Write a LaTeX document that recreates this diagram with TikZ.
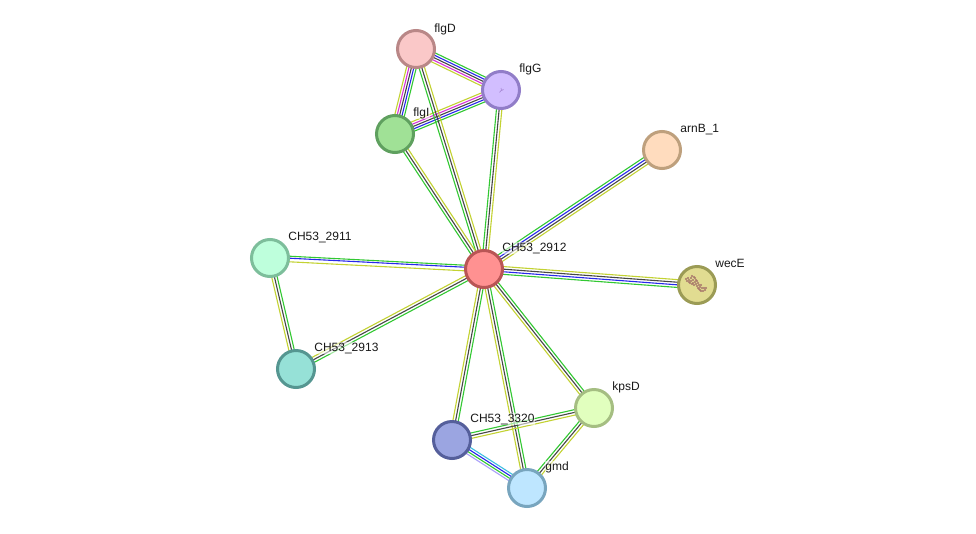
\documentclass[tikz,border=0pt]{standalone}
\usepackage{fontspec}
\setmainfont{Liberation Sans}
\usetikzlibrary{calc}
\definecolor{lgreen}{RGB}{50,200,50}
\definecolor{lblue}{RGB}{40,40,235}
\definecolor{lblack}{RGB}{70,70,70}
\definecolor{lmag}{RGB}{215,50,215}
\definecolor{lyel}{RGB}{195,210,50}
\definecolor{lcyan}{RGB}{60,190,225}
\definecolor{llav}{RGB}{170,160,250}
\definecolor{speckG}{RGB}{170,140,215}
\definecolor{speckW}{RGB}{165,115,105}
\tikzset{
  x=1pt,y=-1pt,
  protein/.style={circle,line width=3pt,minimum size=37pt,inner sep=0pt},
  plabel/.style={anchor=base west,font=\fontsize{12}{12}\selectfont,text=black!90,
    fill=white,fill opacity=.55,text opacity=1,inner sep=.5pt},
  evidence/.style={line width=1.1pt,line cap=butt}
}
% one evidence strand per colour/offset pair, parallel to the line between two proteins
\newcommand{\evlink}[3]{%
  \foreach \c/\o in {#3}{%
    \draw[evidence,\c] ($(#1)!\o pt!90:(#2)$) -- ($(#2)!\o pt!-90:(#1)$);
  }%
}
\begin{document}
\begin{tikzpicture}
\useasboundingbox (0,0) rectangle (976,533);
\fill[white] (0,0) rectangle (976,533);

% anchors for the strands: centres of the proteins
\coordinate (cD) at (416,49);
\coordinate (cG) at (501,90);
\coordinate (cI) at (395,134);
\coordinate (cA) at (662,150);
\coordinate (cC) at (484,269);
\coordinate (cW) at (697,285);
\coordinate (c11) at (270,258);
\coordinate (c13) at (296,369);
\coordinate (cK) at (594,408);
\coordinate (c20) at (452,440);
\coordinate (cM) at (527,488);

% evidence strands
\evlink{cD}{cG}{lgreen/4.8,lblue/2.4,lblack/0,lmag/-2.4,lyel/-4.8}
\evlink{cI}{cG}{lyel/4.8,lmag/2.4,lblack/0,lblue/-2.4,lgreen/-4.8}
\evlink{cD}{cI}{lgreen/4.8,lblue/2.4,lblack/0,lmag/-2.4,lyel/-4.8}
\evlink{cD}{cC}{lyel/2.7,lblack/0,lgreen/-2.7}
\evlink{cG}{cC}{lyel/2.7,lblack/0,lgreen/-2.7}
\evlink{cI}{cC}{lyel/2.7,lblack/0,lgreen/-2.7}
\evlink{cA}{cC}{lyel/3.9,lblack/1.3,lblue/-1.3,lgreen/-3.9}
\evlink{cC}{cW}{lyel/3.9,lblack/1.3,lblue/-1.3,lgreen/-3.9}
\evlink{c11}{cC}{lgreen/2.8,lblue/.8,lyel/-2.8}
\evlink{c11}{c13}{lgreen/2.7,lblack/0,lyel/-2.7}
\evlink{c13}{cC}{lyel/2.7,lblack/0,lgreen/-2.7}
\evlink{cC}{c20}{lgreen/2.7,lblack/0,lyel/-2.7}
\evlink{cC}{cM}{lgreen/2.7,lblack/0,lyel/-2.7}
\evlink{cC}{cK}{lgreen/2.7,lblack/0,lyel/-2.7}
\evlink{c20}{cK}{lgreen/2.7,lblack/0,lyel/-2.7}
\evlink{cK}{cM}{lyel/2.7,lblack/0,lgreen/-2.7}
\evlink{c20}{cM}{lcyan/3.6,lblue/1.2,lgreen/-1.2,llav/-3.6}

% proteins
\node[protein,draw={rgb,255:red,185;green,135;blue,135},fill={rgb,255:red,250;green,200;blue,200}] (flgD) at (cD) {};
\node[protein,draw={rgb,255:red,145;green,125;blue,200},fill={rgb,255:red,210;green,190;blue,255}] (flgG) at (cG) {};
\node[protein,draw={rgb,255:red,95;green,160;blue,95},fill={rgb,255:red,160;green,225;blue,150}] (flgI) at (cI) {};
\node[protein,draw={rgb,255:red,190;green,160;blue,125},fill={rgb,255:red,255;green,220;blue,190}] (arnB) at (cA) {};
\node[protein,draw={rgb,255:red,185;green,85;blue,85},fill={rgb,255:red,255;green,145;blue,145}] (hub) at (cC) {};
\node[protein,draw={rgb,255:red,155;green,155;blue,85},fill={rgb,255:red,225;green,220;blue,145}] (wecE) at (cW) {};
\node[protein,draw={rgb,255:red,125;green,190;blue,155},fill={rgb,255:red,190;green,255;blue,220}] (p2911) at (c11) {};
\node[protein,draw={rgb,255:red,85;green,150;blue,145},fill={rgb,255:red,150;green,225;blue,215}] (p2913) at (c13) {};
\node[protein,draw={rgb,255:red,165;green,190;blue,130},fill={rgb,255:red,225;green,255;blue,190}] (kpsD) at (cK) {};
\node[protein,draw={rgb,255:red,85;green,95;blue,155},fill={rgb,255:red,155;green,165;blue,225}] (p3320) at (c20) {};
\node[protein,draw={rgb,255:red,120;green,165;blue,190},fill={rgb,255:red,190;green,230;blue,255}] (gmd) at (cM) {};

% small structure sketches inside flgG and wecE
\draw[line width=.7pt,speckG] (499.5,92.5) -- (501.5,90) -- (501,88) (501.5,90.5) -- (503.5,89.5);
\foreach \x/\y in {686/279,687/281,688/278,689/280,690/283,691/278,691/281,692/276,693/280,693/283,694/285,695/278,695/282,696/280,696/284,697/286,698/283,698/288,699/285,700/287,700/290,701/285,702/288,703/291,704/288,705/290,706/288,692/284,694/277,697/281,699/289,701/291,689/282}{
  \fill[speckW] (\x,\y) circle (1.1pt);
}

% labels
\node[plabel] at (433.7,32) {flgD};
\node[plabel] at (518.7,72) {flgG};
\node[plabel] at (412.7,116) {flgI};
\node[plabel] at (679.7,132) {arnB\_1};
\node[plabel] at (501.7,251) {CH53\_2912};
\node[plabel] at (714.7,267) {wecE};
\node[plabel] at (287.7,240) {CH53\_2911};
\node[plabel] at (313.7,351) {CH53\_2913};
\node[plabel] at (611.7,390) {kpsD};
\node[plabel] at (469.7,422) {CH53\_3320};
\node[plabel] at (544.7,470) {gmd};
\end{tikzpicture}
\end{document}
